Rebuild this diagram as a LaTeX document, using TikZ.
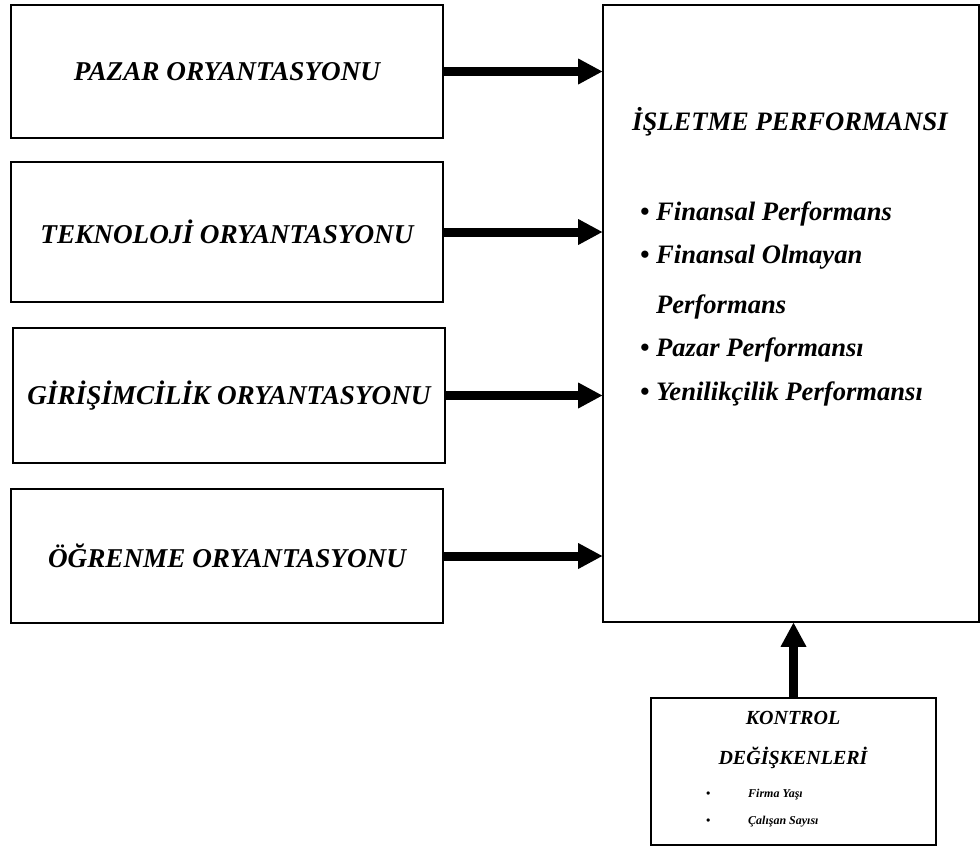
\documentclass[tikz,border=0pt]{standalone}
\usepackage{fontspec}
\setmainfont{Liberation Serif}
\usetikzlibrary{arrows.meta}

\begin{document}
\begin{tikzpicture}[x=1pt, y=-1pt,
  orbox/.style={draw, line width=1.6pt, minimum width=432pt, inner sep=0pt, font=\bfseries\itshape\fontsize{27.2}{30}\selectfont},
  bigtext/.style={inner sep=0pt, font=\bfseries\itshape\fontsize{26.6}{30}\selectfont},
  smalltext/.style={inner sep=0pt, font=\bfseries\itshape\fontsize{20}{24}\selectfont},
  tinytext/.style={inner sep=0pt, font=\bfseries\itshape\fontsize{12}{14}\selectfont},
  fatarrow/.style={line width=9pt, -{Triangle[length=24pt,width=26pt,line width=0pt]}}]
\useasboundingbox[fill=white] (0,0) rectangle (980,847);
\node[orbox, minimum height=133pt] (pazar) at (227,71.5) {PAZAR ORYANTASYONU};
\node[orbox, minimum height=140pt] (teknoloji) at (227,232) {TEKNOLOJİ ORYANTASYONU};
\node[orbox, minimum height=135pt] (girisim) at (229,395.5) {GİRİŞİMCİLİK ORYANTASYONU};
\node[orbox, minimum height=134pt] (ogrenme) at (227,556) {ÖĞRENME ORYANTASYONU};
\node[draw, line width=1.6pt, minimum width=376pt, minimum height=617pt] (isletme) at (791,313.5) {};
\node[draw, line width=1.6pt, minimum width=285pt, minimum height=147pt] (kontrol) at (793.5,771.5) {};
\node[bigtext, anchor=base] (baslik) at (790,130) {İŞLETME PERFORMANSI};
\node[bigtext, anchor=base west] (madde1) at (640,220) {\textbullet\ Finansal Performans};
\node[bigtext, anchor=base west] (madde2) at (640,263) {\textbullet\ Finansal Olmayan};
\node[bigtext, anchor=base west] (madde2b) at (640,313) {\hphantom{\textbullet\ }Performans};
\node[bigtext, anchor=base west] (madde3) at (640,356) {\textbullet\ Pazar Performansı};
\node[bigtext, anchor=base west] (madde4) at (640,400) {\textbullet\ Yenilikçilik Performansı};
\node[smalltext, anchor=base] (kontrol1) at (793,724) {KONTROL};
\node[smalltext, anchor=base] (kontrol2) at (793,764) {DEĞİŞKENLERİ};
\node[tinytext, anchor=base west] (yas) at (706,797) {\makebox[42pt][l]{\textbullet}Firma Yaşı};
\node[tinytext, anchor=base west] (calisan) at (706,824) {\makebox[42pt][l]{\textbullet}Çalışan Sayısı};
\draw[fatarrow] (pazar.east) -- (pazar.east -| isletme.west);
\draw[fatarrow] (teknoloji.east) -- (teknoloji.east -| isletme.west);
\draw[fatarrow] (girisim.east) -- (girisim.east -| isletme.west);
\draw[fatarrow] (ogrenme.east) -- (ogrenme.east -| isletme.west);
\draw[fatarrow] (kontrol.north) -- (kontrol.north |- isletme.south);
\end{tikzpicture}
\end{document}
